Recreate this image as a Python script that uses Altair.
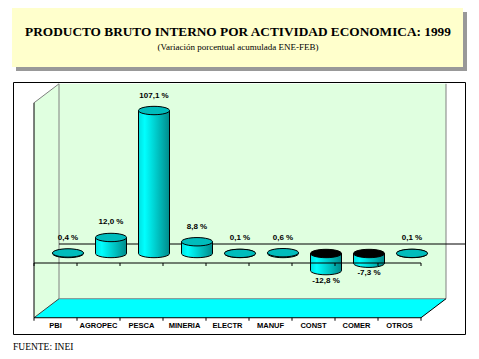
import altair as alt
import pandas as pd

# ---------------- data ----------------
categories = ["PBI", "AGROPEC", "PESCA", "MINERIA", "ELECTR", "MANUF", "CONST", "COMER", "OTROS"]
values = [0.4, 12.0, 107.1, 8.8, 0.1, 0.6, -12.8, -7.3, 0.1]
title_text = "PRODUCTO BRUTO INTERNO POR ACTIVIDAD ECONOMICA: 1999"
subtitle_text = "(Variación porcentual acumulada ENE-FEB)"
source_text = "FUENTE: INEI"

# ---------------- geometry (style constants) ----------------
W, H = 463, 343
PX_X = 43.0          # pixels per category
PX_Y = 1.335         # pixels per percent point
XMIN = -47.5 / PX_X
XMAX = XMIN + W / PX_X
YTOP = 245.5 / PX_Y
YBOT = YTOP - H / PX_Y
DX = 25 / PX_X       # 3D depth offset (category units)
DY = 19 / PX_Y       # 3D depth offset (percent units)
AX_MIN, AX_MAX = -41, 120
HALF = 15.5 / PX_X   # half bar width
n = len(categories)

xs = alt.Scale(domain=[XMIN, XMAX], nice=False, zero=False)
ys = alt.Scale(domain=[YBOT, YTOP], nice=False, zero=False)


def X(f):
    return alt.X(f, type="quantitative", scale=xs, axis=None)


def Y(f):
    return alt.Y(f, type="quantitative", scale=ys, axis=None)


rows = []
for i, (c, v) in enumerate(zip(categories, values)):
    xc = i + DX / 2
    rows.append(dict(cat=c, xi=i, v=v, xc=xc, xl=xc - HALF, xr=xc + HALF,
                     top=max(v, 0), bot=min(v, 0),
                     topfill="#00BCBC" if v >= 0 else "#000000",
                     label=f"{v:.1f}".replace(".", ",") + " %",
                     pos=v >= 0))
bars = pd.DataFrame(rows)

dummy = pd.DataFrame({"a": [0]})

# frame and title box (decoration, pixel positions)
frame = alt.Chart(dummy).mark_rect(fill="white", stroke="black", strokeWidth=1).encode(
    x=alt.value(5.5), x2=alt.value(457.5), y=alt.value(74.5), y2=alt.value(326.5))
shadow = alt.Chart(dummy).mark_rect(fill="#999999").encode(
    x=alt.value(8), x2=alt.value(459), y=alt.value(4), y2=alt.value(63))
tbox = alt.Chart(dummy).mark_rect(fill="#FFFFCC").encode(
    x=alt.value(4), x2=alt.value(455), y=alt.value(0), y2=alt.value(59))
t1 = alt.Chart(dummy).mark_text(text=title_text, font="Liberation Serif", fontWeight="bold",
                                fontSize=13.3, color="black", baseline="middle", align="center").encode(
    x=alt.value(230), y=alt.value(24))
t2 = alt.Chart(dummy).mark_text(text=subtitle_text, font="Liberation Serif",
                                fontSize=9, color="black", baseline="middle", align="center").encode(
    x=alt.value(230), y=alt.value(38.5))
src = alt.Chart(dummy).mark_text(text=source_text, font="Liberation Serif",
                                 fontSize=9.5, color="black", baseline="middle", align="left").encode(
    x=alt.value(5), y=alt.value(339))

# walls & floor
fb, bb = AX_MIN - DY / 2, AX_MIN + DY / 2
ft, bt = AX_MAX - DY / 2, AX_MAX + DY / 2
L, R = -0.5, n - 0.5
back = pd.DataFrame({"x": [L + DX], "x2": [R + DX], "y": [bb], "y2": [bt]})
back_wall = alt.Chart(back).mark_rect(fill="#E0FFE0").encode(
    x=X("x"), x2="x2", y=Y("y"), y2="y2")
left = pd.DataFrame({"x": [L, L + DX], "y": [ft, bt], "y2": [fb, bb]})
left_wall = alt.Chart(left).mark_area(fill="#E0FFE0", orient="vertical").encode(
    x=X("x"), y=Y("y"), y2="y2")
floor = pd.DataFrame({"x": [L, L + DX, R, R + DX], "y": [fb, bb, bb, bb], "y2": [fb, fb, fb, bb]})
floor_area = alt.Chart(floor).mark_area(fill="#00FFFF", orient="vertical").encode(
    x=X("x"), y=Y("y"), y2="y2")

frame_right = XMIN + 457 / PX_X
segs = [
    (L + DX, bb, L + DX, bt, "#808080"),
    (R + DX, bb, R + DX, bt, "#808080"),
    (L + DX, bb, R + DX, bb, "#808080"),
    (L, ft, L + DX, bt, "#808080"),
    (L, fb, L + DX, bb, "#404040"),
    (R, fb, R + DX, bb, "#000000"),
    (L, fb, L, ft, "#000000"),
    (L + DX, DY / 2, frame_right, DY / 2, "#000000"),
]
seg_df = pd.DataFrame(segs, columns=["x", "y", "x2", "y2", "c"])
edges = alt.Chart(seg_df).mark_rule(strokeWidth=1).encode(
    x=X("x"), y=Y("y"), x2="x2", y2="y2", color=alt.Color("c:N", scale=None))

# front lines with ticks
TK = 3 / PX_Y
fl = pd.DataFrame([(L, -DY / 2, R, -DY / 2), (L, fb, R, fb)] +
                  [(L + k, -DY / 2, L + k, -DY / 2 - TK) for k in range(n + 1)] +
                  [(L + k, fb, L + k, fb - TK) for k in range(n + 1)],
                  columns=["x", "y", "x2", "y2"])
front_lines = alt.Chart(fl).mark_rule(strokeWidth=1, color="black").encode(
    x=X("x"), y=Y("y"), x2="x2", y2="y2")

# cylinders
k = 0.5523
ry = 0.27
ell = (f"M-1,0C-1,{-ry*k:.4f},{-k},{-ry},0,{-ry}C{k},{-ry},1,{-ry*k:.4f},1,0"
       f"C1,{ry*k:.4f},{k},{ry},0,{ry}C{-k},{ry},-1,{ry*k:.4f},-1,0Z")
grad = alt.Gradient(gradient="linear", x1=0, x2=1, y1=0, y2=0, stops=[
    alt.GradientStop(color="#00E0E0", offset=0),
    alt.GradientStop(color="#00FFFF", offset=0.2),
    alt.GradientStop(color="#00B0B0", offset=0.75),
    alt.GradientStop(color="#008A8A", offset=1)])
SZ = 31 ** 2
bottom_ell = alt.Chart(bars).mark_point(shape=ell, size=SZ, filled=True, fill=grad,
                                        stroke="black", strokeWidth=1, opacity=1).encode(
    x=X("xc"), y=Y("bot"))
body = alt.Chart(bars).mark_bar(fill=grad, stroke=None).encode(
    x=X("xl"), x2="xr", y=Y("bot"), y2="top")
sides = alt.layer(
    alt.Chart(bars).mark_rule(color="black", strokeWidth=1).encode(x=X("xl"), y=Y("bot"), y2="top"),
    alt.Chart(bars).mark_rule(color="black", strokeWidth=1).encode(x=X("xr"), y=Y("bot"), y2="top"),
)
top_ell = alt.Chart(bars).mark_point(shape=ell, size=SZ, filled=True,
                                     stroke="black", strokeWidth=1, opacity=1).encode(
    x=X("xc"), y=Y("top"), fill=alt.Fill("topfill:N", scale=None))

lab_font = dict(font="Liberation Sans", fontWeight="bold", fontSize=8, color="black",
                baseline="middle", align="center")
pos_lab = alt.Chart(bars).transform_filter("datum.pos").mark_text(dy=-15, **lab_font).encode(
    x=X("xc"), y=Y("top"), text="label:N")
neg_lab = alt.Chart(bars).transform_filter("!datum.pos").mark_text(dy=10, **lab_font).encode(
    x=X("xc"), y=Y("bot"), text="label:N")

cat_df = bars.assign(ly=fb)
cat_lab = alt.Chart(cat_df).mark_text(dy=8, font="Liberation Sans", fontWeight="bold", fontSize=7.5,
                                      color="black", baseline="middle", align="center").encode(
    x=X("xi"), y=Y("ly"), text="cat:N")

chart = alt.layer(
    frame, shadow, tbox, t1, t2,
    back_wall, left_wall, floor_area, edges,
    bottom_ell, body, sides, top_ell,
    front_lines, pos_lab, neg_lab, cat_lab, src,
).properties(
    width=W, height=H, autosize=alt.AutoSizeParams(type="none"), padding=0
).configure_view(stroke=None)

chart.save("out.html", embed_options={"renderer": "svg", "actions": False})
